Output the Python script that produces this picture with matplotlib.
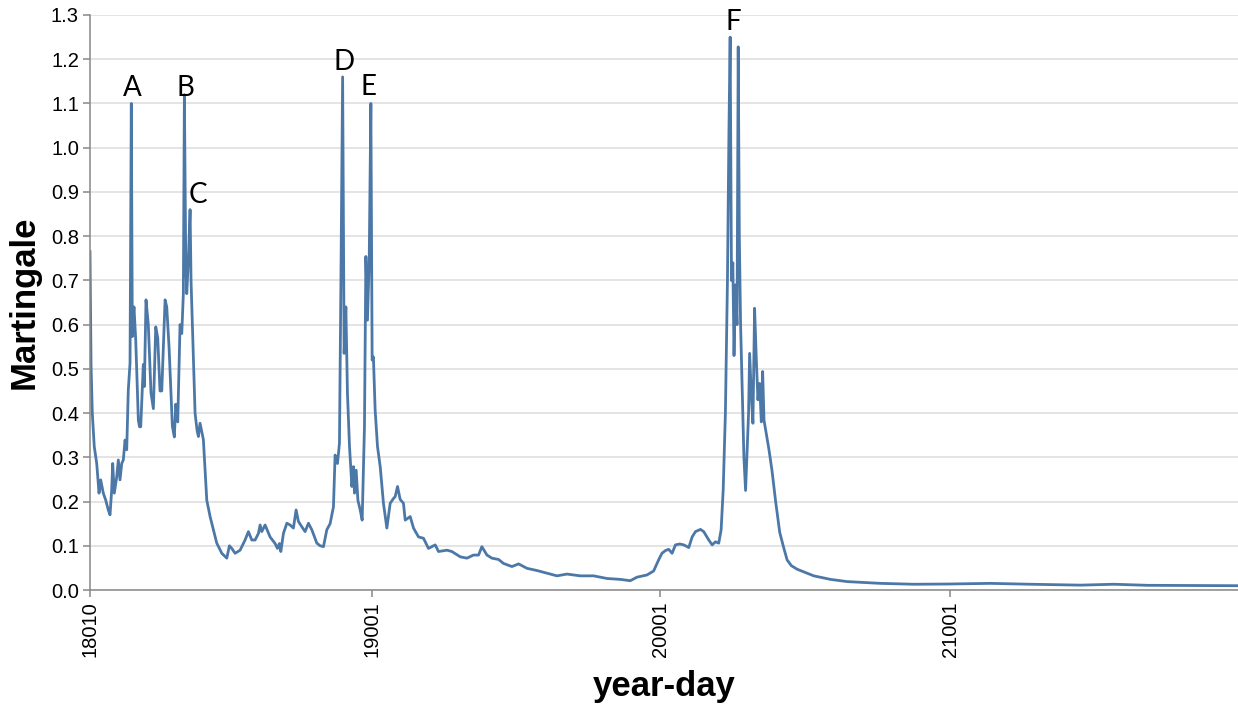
import matplotlib
matplotlib.use("Agg")
import matplotlib.pyplot as plt

# day offset since 2018-01-10 and martingale value
days = [0, 1.3, 2.9, 5.4, 8.5, 11.4, 13.5, 16.8, 19.9, 23.1, 25.3, 27.4, 28.7, 30.7, 33.8, 35.8,
        37.9, 40.1, 42.1, 44.3, 46.4, 48.4, 50.6, 52.2, 53.5, 54.8, 55.6, 57.8, 59.8, 61.1, 62.6,
        64.1, 66.1, 67.4, 68.7, 70.8, 73.7, 77.1, 80.1, 83.1, 85.6, 88.5, 90.7, 94.9, 97.0, 99.9,
        104.1, 106.6, 108.4, 110.9, 113.8, 116.0, 118.0, 119.3, 121.0, 122.3, 124.4, 126.5, 127.7,
        129.4, 132.8, 135.4, 137.0, 139.1, 143.3, 147.6, 151.8, 156.0, 160.2, 166.6, 172.9, 176.2,
        179.2, 183.4, 189.7, 196.0, 200.2, 204.5, 208.7, 212.9, 215.0, 217.1, 221.3, 227.6, 234.0,
        236.9, 239.4, 241.2, 244.5, 248.8, 252.9, 257.1, 260.5, 263.4, 267.7, 271.9, 276.1, 280.4,
        286.7, 290.9, 295.1, 299.3, 303.5, 307.7, 309.8, 312.8, 315.3, 317.0, 319.3, 321.2, 323.4,
        325.4, 328.0, 331.0, 333.0, 334.3, 336.4, 338.6, 341.5, 344.0, 346.9, 348.7, 350.7, 352.9,
        355.0, 356.6, 358.2, 360.4, 363.4, 366.8, 370.9, 375.2, 379.4, 383.6, 385.7, 388.7, 392.0,
        396.2, 398.4, 404.7, 408.9, 415.2, 421.5, 427.8, 436.3, 440.5, 451.1, 457.4, 468.0, 476.4,
        484.7, 491.1, 495.3, 501.7, 508.0, 516.4, 522.7, 533.3, 541.7, 552.3, 565.0, 577.6, 590.2,
        602.9, 619.7, 636.6, 653.5, 670.3, 682.9, 691.4, 704.0, 712.4, 718.7, 722.9, 727.2, 731.4,
        735.7, 740.0, 745.5, 750.5, 756.8, 761.1, 765.3, 771.6, 775.7, 782.1, 786.4, 790.5, 794.7,
        797.7, 800.3, 803.1, 805.7, 807.6, 809.1, 810.8, 812.5, 814.0, 815.9, 817.8, 819.3, 820.7,
        822.3, 824.4, 826.5, 828.6, 830.8, 832.4, 833.7, 836.2, 837.9, 840.0, 842.2, 844.2, 846.4,
        848.5, 850.2, 851.9, 854.0, 858.2, 862.0, 866.6, 871.8, 876.9, 881.1, 886.5, 893.7, 914.8,
        935.9, 957.0, 999.1, 1041.2, 1083.5, 1138.2, 1188.8, 1252.0, 1293.8, 1336.4, 1450.6]
martingale = [0.765, 0.51, 0.40, 0.324, 0.286, 0.219, 0.249, 0.219, 0.203, 0.181, 0.17, 0.226, 0.286,
              0.219, 0.256, 0.294, 0.249, 0.286, 0.294, 0.339, 0.317, 0.452, 0.513, 1.10, 0.573, 0.62,
              0.64, 0.565, 0.452, 0.384, 0.369, 0.369, 0.452, 0.51, 0.46, 0.656, 0.60, 0.445, 0.41,
              0.595, 0.57, 0.45, 0.45, 0.656, 0.64, 0.55, 0.37, 0.346, 0.42, 0.38, 0.60, 0.58, 0.67,
              1.12, 0.746, 0.67, 0.75, 0.86, 0.70, 0.60, 0.40, 0.36, 0.347, 0.377, 0.34, 0.203, 0.166,
              0.136, 0.106, 0.083, 0.072, 0.10, 0.094, 0.083, 0.09, 0.113, 0.132, 0.113, 0.113, 0.128,
              0.147, 0.132, 0.147, 0.12, 0.105, 0.094, 0.105, 0.087, 0.128, 0.151, 0.147, 0.14, 0.181,
              0.155, 0.143, 0.132, 0.151, 0.136, 0.106, 0.10, 0.098, 0.136, 0.15, 0.188, 0.305, 0.286,
              0.332, 0.67, 1.16, 0.535, 0.64, 0.445, 0.324, 0.234, 0.279, 0.219, 0.271, 0.203, 0.181,
              0.158, 0.369, 0.754, 0.61, 0.746, 1.10, 0.52, 0.527, 0.407, 0.324, 0.279, 0.196, 0.14,
              0.196, 0.207, 0.211, 0.234, 0.205, 0.196, 0.158, 0.166, 0.14, 0.12, 0.117, 0.094, 0.102,
              0.087, 0.09, 0.087, 0.075, 0.072, 0.079, 0.079, 0.098, 0.079, 0.072, 0.069, 0.06, 0.053,
              0.059, 0.049, 0.044, 0.038, 0.032, 0.036, 0.032, 0.032, 0.026, 0.024, 0.021, 0.029, 0.034,
              0.043, 0.068, 0.083, 0.089, 0.092, 0.083, 0.102, 0.104, 0.102, 0.096, 0.12, 0.132, 0.137,
              0.132, 0.113, 0.102, 0.109, 0.106, 0.136, 0.226, 0.40, 0.70, 1.04, 1.25, 0.70, 0.74, 0.53,
              0.69, 0.60, 1.228, 0.80, 0.60, 0.45, 0.30, 0.225, 0.33, 0.40, 0.535, 0.43, 0.377, 0.637,
              0.52, 0.43, 0.467, 0.38, 0.494, 0.384, 0.362, 0.317, 0.27, 0.20, 0.13, 0.095, 0.068,
              0.055, 0.047, 0.032, 0.024, 0.019, 0.015, 0.013, 0.0135, 0.015, 0.013, 0.011, 0.013,
              0.0106, 0.0097]

tick_days = [0, 356, 721, 1087]
tick_labels = ["18010", "19001", "20001", "21001"]

event_labels = ["A", "B", "C", "D", "E", "F"]
event_days = [53, 120, 136.6, 321, 352, 813]
event_vals = [1.117, 1.117, 0.875, 1.176, 1.119, 1.266]

fig = plt.figure(figsize=(12.38, 7.06), dpi=100)
ax = fig.add_axes([90 / 1238, 116 / 706, 1148 / 1238, 575 / 706])

ax.plot(days, martingale, color="#4c78a8", linewidth=2.0, solid_joinstyle="round")

ax.set_xlim(0, 1451)
ax.set_ylim(0, 1.3)
yt = [i / 10 for i in range(14)]
ax.set_yticks(yt)
ax.set_yticklabels([f"{v:.1f}" for v in yt], fontfamily="Liberation Sans", fontsize=14.5)
ax.set_xticks(tick_days)
ax.set_xticklabels(tick_labels, rotation=90, fontfamily="Liberation Sans", fontsize=14.5)

ax.yaxis.grid(True, color="#dddddd", linewidth=1.1)
ax.xaxis.grid(False)
ax.set_axisbelow(True)
for s in ["top", "right"]:
    ax.spines[s].set_visible(False)
for s in ["left", "bottom"]:
    ax.spines[s].set_color("#888888")
    ax.spines[s].set_linewidth(1.1)
ax.tick_params(axis="both", colors="#888888", length=5, width=1.1, labelcolor="black", pad=3)

ax.set_ylabel("Martingale", fontfamily="Liberation Sans", fontweight="bold", fontsize=25)
ax.yaxis.label.set_va("center")
ax.yaxis.set_label_coords(-0.057, 0.5)
ax.set_xlabel("year-day", fontfamily="Liberation Sans", fontweight="bold", fontsize=25)
ax.xaxis.label.set_va("center")
ax.xaxis.set_label_coords(0.5, -0.168)

for lab, d, v in zip(event_labels, event_days, event_vals):
    ax.text(d, v, lab, ha="center", va="baseline", fontsize=20, fontfamily="Lato", color="black")

fig.savefig("out.png", dpi=100)
